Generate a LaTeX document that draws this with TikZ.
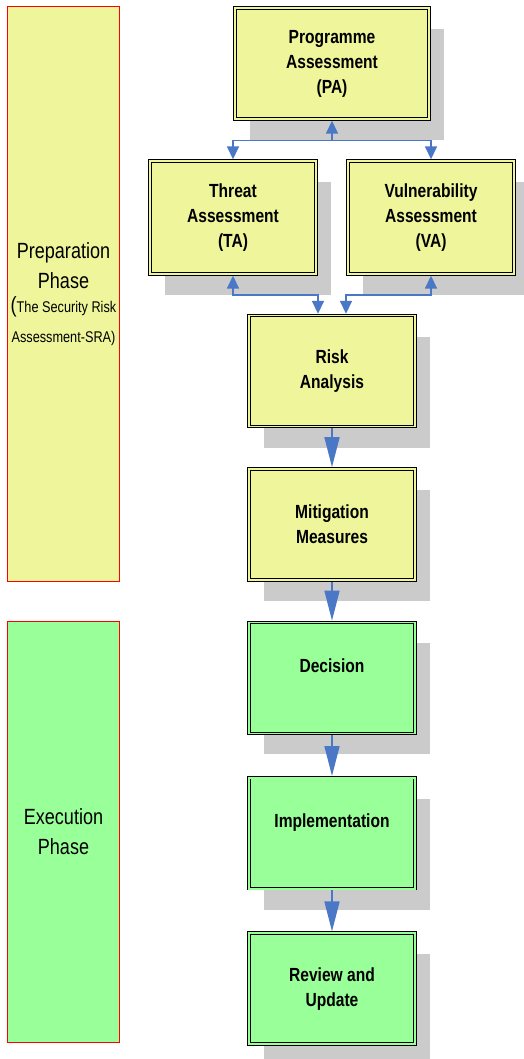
\documentclass[tikz,border=0pt]{standalone}
\usepackage{fontspec}
\usepackage{tikz}
\usetikzlibrary{arrows.meta,positioning,shadows}
\newfontfamily\narrowsans[FakeStretch=0.82]{Liberation Sans}
\definecolor{PaleYellow}{HTML}{EEF59A}
\definecolor{PaleGreen}{HTML}{99FF99}
\definecolor{ShadowGray}{HTML}{CBCBCB}
\definecolor{LinkBlue}{HTML}{4A78C6}

\begin{document}
\begin{tikzpicture}[
    x=1pt, y=-1pt,
    font=\narrowsans,
    phasebox/.style={draw=red, line width=1.5pt, fill=#1, align=center, minimum width=112pt, inner sep=0pt, font=\narrowsans\fontsize{22}{30}\selectfont},
    stepbox/.style={draw=black, fill=#1, double=#1, double distance=1.6pt, line width=0.9pt, outer sep=1.7pt,
        align=center, minimum width=166pt, minimum height=111pt, inner sep=0pt,
        font=\narrowsans\bfseries\fontsize{19}{25}\selectfont,
        general shadow={fill=ShadowGray, shadow xshift=15pt, shadow yshift=-21pt}},
    link/.style={draw=LinkBlue, line width=1.6pt, {Triangle[length=13pt,width=12pt]}-{Triangle[length=13pt,width=12pt]}},
    flow/.style={draw=LinkBlue, line width=1.6pt, -{Triangle[length=30pt,width=15pt]}}
]
\useasboundingbox (0,0) rectangle (524,1059);

% phases
\node[phasebox=PaleYellow, minimum height=575pt] (prep) at (63.5,294) {Preparation\\Phase\\[-6pt]
    {(\fontsize{15.5}{22}\selectfont The Security Risk}\\{\fontsize{15.5}{22}\selectfont Assessment-SRA)}};
\node[phasebox=PaleGreen, minimum height=421pt] (exec) at (63.5,832) {Execution\\Phase};

% assessment steps
\node[stepbox=PaleYellow, minimum width=194pt] (pa) at (332,63.5) {Programme\\Assessment\\(PA)};
\node[stepbox=PaleYellow, minimum height=113pt] (ta) at (233,217.5) {Threat\\Assessment\\(TA)};
\node[stepbox=PaleYellow, minimum height=113pt] (va) at (431,217.5) {Vulnerability\\Assessment\\(VA)};
\node[stepbox=PaleYellow] (risk) at (332,371) {Risk\\Analysis};
\node[stepbox=PaleYellow, below=39pt of risk] (mitig) {Mitigation\\Measures};
\node[stepbox=PaleGreen, below=39pt of mitig] (decide) {Decision\\~};
\node[stepbox=PaleGreen, below=41pt of decide] (impl) {Implementation\\~};
\node[stepbox=PaleGreen, below=41pt of impl] (review) {Review and\\Update};

% links
\draw[link] (ta.north) |- ([yshift=-20pt]pa.south) -| (va.north);
\draw[link, -{Triangle[length=13pt,width=12pt]}] ([yshift=-20pt]pa.south) -- (pa.south);
\draw[link] (ta.south) |- ([xshift=-14pt,yshift=19pt]risk.north) -- ([xshift=-14pt]risk.north);
\draw[link] (va.south) |- ([xshift=14pt,yshift=19pt]risk.north) -- ([xshift=14pt]risk.north);
\draw[flow] (risk) -- (mitig);
\draw[flow] (mitig) -- (decide);
\draw[flow] (decide) -- (impl);
\draw[flow] (impl) -- (review);
\end{tikzpicture}
\end{document}
